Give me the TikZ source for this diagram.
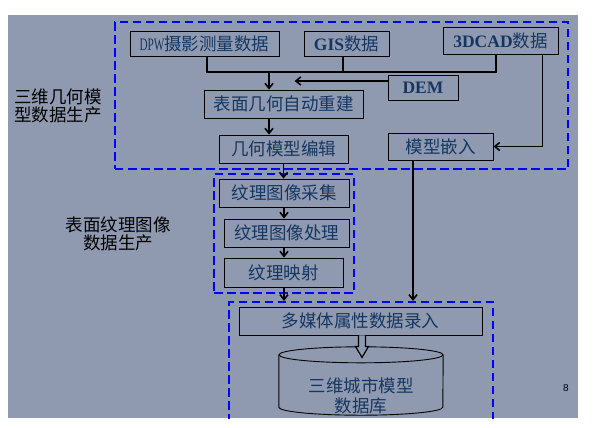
\documentclass[tikz,border=0pt]{standalone}
\usepackage{fontspec}
\setmainfont{Noto Sans CJK SC}
\newfontfamily\latinserif{Liberation Serif}
\newfontfamily\pagefont{Liberation Sans}
\usetikzlibrary{arrows.meta,positioning}
\definecolor{slidegray}{RGB}{143,154,176}
\definecolor{boxtext}{RGB}{22,54,98}
\definecolor{groupblue}{RGB}{0,0,255}
\newcommand{\lat}[1]{{\latinserif\bfseries #1}}

\begin{document}
\begin{tikzpicture}[
  x=1bp,y=-1bp,
  font=\fontsize{17.5bp}{18.5bp}\selectfont,
  box/.style={draw,line width=0.9bp,text=boxtext,inner sep=0pt,
              minimum height=28bp},
  groupframe/.style={draw=groupblue,line width=2.2bp,
                     dash pattern=on 8.5bp off 4.5bp,inner sep=0pt},
  side/.style={text=black,align=center,inner sep=0pt},
  dbstore/.style={inner sep=0pt},
  dbline/.style={line width=0.9bp},
  arrow/.style={-{Straight Barb[length=5bp,width=8bp]},line width=1.6bp},
  link/.style={line width=1.6bp},
  hollow/.style={draw,line width=1.2bp,fill=slidegray,line join=miter}
]
\useasboundingbox (0,0) rectangle (596,427);
\fill[slidegray] (8,15) rectangle (578,418);

% dashed groups
\node[groupframe,minimum width=453bp,minimum height=147bp] (grpgeo)
 at (341.5,95.5) {};
\node[groupframe,minimum width=140bp,minimum height=119bp] (grptex)
 at (284,233.5) {};
\begin{scope}
\clip (8,15) rectangle (578,418);
\node[groupframe,minimum width=264bp,minimum height=140bp] (grpdb)
 at (361,372) {};
\end{scope}

% geometry sources
\node[box,minimum width=149bp,minimum height=25bp] (dpw) at (204.5,43.5)
 {{\latinserif\scalebox{0.64}[1]{DPW}}摄影测量数据};
\node[box,minimum width=85bp,minimum height=25bp] (gis) at (346.5,43.5)
 {\lat{GIS}数据};
\node[box,minimum width=115bp,minimum height=27bp] (cad) at (500.5,40.5)
 {\lat{3DCAD}数据};
\node[box,minimum width=70bp,minimum height=25bp] (dem) at (423,87.5)
 {\lat{DEM}};
\node[box,minimum width=159bp] (recon) at (283.5,104) {表面几何自动重建};
\node[box,minimum width=129bp] (edit) at (283.5,149) {几何模型编辑};
\node[box,minimum width=105bp,minimum height=27bp] (embed) at (440.5,146.5)
 {模型嵌入};

% texture steps
\node[box,minimum width=130bp] (collect) at (284,193) {纹理图像采集};
\node[box,minimum width=125bp] (process) at (286.5,233) {纹理图像处理};
\node[box,minimum width=119bp,minimum height=29bp] (mapping) at (283.5,272.5)
 {纹理映射};

% database
\node[box,minimum width=243bp] (attr) at (360.5,321) {多媒体属性数据录入};
\node[dbstore,minimum width=164bp,minimum height=68bp,
 label={[text=boxtext,align=center,yshift=-15bp]center:{三维城市模型\\[2bp]数据库}}]
 (db) at (361,381) {};
\draw[dbline] ([yshift=-8bp]db.north) ellipse [x radius=82bp,y radius=8bp];
\draw[dbline] ([yshift=-8bp]db.north west) -- ([yshift=8bp]db.south west)
 arc[start angle=180,end angle=360,x radius=82bp,y radius=8bp]
 -- ([yshift=-8bp]db.north east);

% side labels
\node[side,align=left,anchor=west] (lblgeo) at (14,106) {三维几何模\\型数据生产};
\node[side] (lbltex) at (118,234) {表面纹理图像\\数据生产};
\node[font=\pagefont\fontsize{10bp}{12bp}\selectfont] (pagenum) at (566,388) {8};

% connectors
\coordinate (bus) at (269,72);
\draw[link] (dpw.south) ++(2.5,0) coordinate (d1) -- (d1 |- bus)
 -| ([xshift=-4.5bp]cad.south);
\draw[link] (gis.south) ++(-3.5,0) coordinate (g1) -- (g1 |- bus);
\draw[arrow] (bus) -- (bus |- recon.north);
\draw[arrow] (dem.west) ++(0,-6.5) -- ++(-93,0);
\draw[arrow] (bus |- recon.south) -- (bus |- edit.north);
\draw[arrow] ([xshift=-16bp]cad.south east) |- (embed.east);
\draw[arrow] (embed.south) ++(-27.5,0) coordinate (e1) -- (e1 |- grpdb.north);

\draw[arrow] (edit.south) -- (edit.south |- collect.north);
\draw[arrow] (collect.south) -- (collect.south |- process.north);
\draw[arrow] (collect.south |- process.south) -- (collect.south |- mapping.north);
\draw[arrow] (collect.south |- mapping.south) -- (collect.south |- grpdb.north);

% hollow arrow into the store
\draw[hollow] (attr.south) ++(-2,0) -- ++(0,11) -- ++(-3,0) -- ++(6.5,11)
 -- ++(6.5,-11) -- ++(-3,0) -- ++(0,-11);
\end{tikzpicture}
\end{document}
